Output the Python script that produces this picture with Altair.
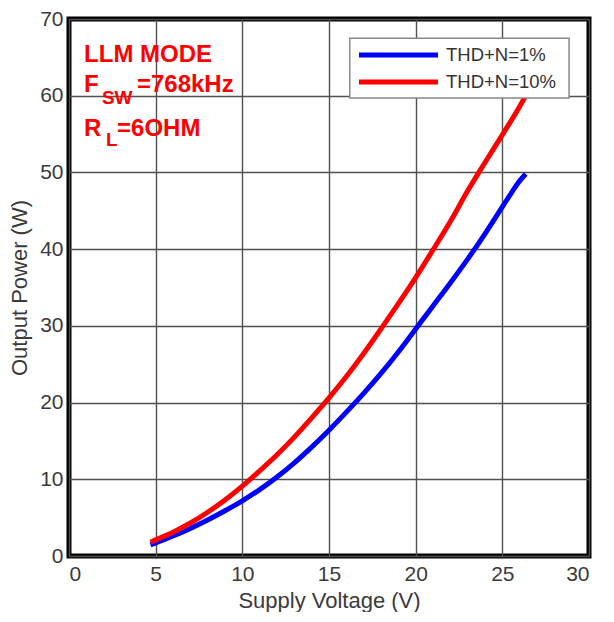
import altair as alt
import pandas as pd

# Supply voltage (V) and output power (W)
v_1pct = [4.7, 5, 6, 7, 8, 9, 10, 11, 12, 13, 14, 15, 16, 17, 18, 19, 20, 21, 22, 23, 24, 25, 25.6, 26, 26.35]
p_1pct = [1.45, 1.7, 2.6, 3.6, 4.7, 5.9, 7.2, 8.65, 10.3, 12.15, 14.2, 16.4, 18.75, 21.2, 23.8, 26.6, 29.6, 32.6, 35.6, 38.7, 42.0, 45.5, 47.6, 48.9, 49.8]

v_10pct = [4.7, 5, 6, 7, 8, 9, 10, 11, 12, 13, 14, 15, 16, 17, 18, 19, 20, 21, 22, 23, 24, 25, 26, 26.4]
p_10pct = [1.8, 2.1, 3.1, 4.3, 5.7, 7.3, 9.1, 11.1, 13.2, 15.5, 18.0, 20.6, 23.4, 26.4, 29.6, 32.9, 36.3, 39.9, 43.6, 47.6, 51.3, 54.9, 58.6, 60.2]

series_names = ["THD+N=1%", "THD+N=10%"]
series_colors = ["#0000FF", "#FF0000"]

x_ticks = [0, 5, 10, 15, 20, 25, 30]
y_ticks = [0, 10, 20, 30, 40, 50, 60, 70]

# legend box (data coordinates)
legend_box_v = [16.2, 28.85]
legend_box_p = [67.5, 59.7]
legend_line_v = [16.73, 21.29]
legend_row_p = [65.3, 61.8]
legend_text_v = 21.75

rows = []
for i, (v, p) in enumerate(zip(v_1pct, p_1pct)):
    rows.append({"V": v, "P": p, "series": series_names[0], "order": i})
for i, (v, p) in enumerate(zip(v_10pct, p_10pct)):
    rows.append({"V": v, "P": p, "series": series_names[1], "order": i})
df = pd.DataFrame(rows)

# annotation text pieces (data coordinates)
ann_text = ["LLM MODE", "F", "SW", "=768kHz", "R", "L", "=6OHM"]
ann_v = [0.87, 0.87, 1.9, 3.92, 0.87, 2.13, 2.77]
ann_p = [64.4, 60.5, 58.9, 60.5, 54.7, 53.4, 54.7]
ann_size = [24, 24, 19, 24, 24, 19, 24]
ann = pd.DataFrame({"V": ann_v, "P": ann_p, "t": ann_text, "size": ann_size})

box_df = pd.DataFrame({"V": [legend_box_v[0]], "V2": [legend_box_v[1]],
                       "P": [legend_box_p[0]], "P2": [legend_box_p[1]]})
leg_df = pd.DataFrame({"series": series_names, "P": legend_row_p,
                       "V": [legend_line_v[0]] * 2, "V2": [legend_line_v[1]] * 2,
                       "VT": [legend_text_v] * 2})

xs = alt.Scale(domain=[0, 30], nice=False)
ys = alt.Scale(domain=[0, 70], nice=False)
cs = alt.Scale(domain=series_names, range=series_colors)

lines = alt.Chart(df).mark_line(strokeWidth=5, interpolate="monotone").encode(
    x=alt.X("V:Q", scale=xs, title="Supply Voltage (V)",
            axis=alt.Axis(values=x_ticks)),
    y=alt.Y("P:Q", scale=ys, title="Output Power (W)",
            axis=alt.Axis(values=y_ticks)),
    color=alt.Color("series:N", scale=cs, legend=None),
    order="order:Q",
)

text = alt.Chart(ann).mark_text(align="left", baseline="alphabetic", fontWeight="bold",
                                 font="Liberation Sans", color="#FF0000").encode(
    x="V:Q", y="P:Q", text="t:N", size=alt.Size("size:Q", scale=None, legend=None),
)

box = alt.Chart(box_df).mark_rect(fill="white", stroke="#888888", strokeWidth=1.5).encode(
    x="V:Q", x2="V2:Q", y="P:Q", y2="P2:Q")

leg_lines = alt.Chart(leg_df).mark_rule(strokeWidth=5).encode(
    x="V:Q", x2="V2:Q", y="P:Q",
    color=alt.Color("series:N", scale=cs, legend=None))

leg_text = alt.Chart(leg_df).mark_text(align="left", baseline="middle", fontSize=18.5,
                                       font="Liberation Sans", color="#333333").encode(
    x="VT:Q", y="P:Q", text="series:N")

chart = alt.layer(lines, text, box, leg_lines, leg_text).properties(
    width=520, height=537,
    autosize=alt.AutoSizeParams(type="none"),
    padding={"left": 61, "top": 11, "right": 14, "bottom": 56},
).configure_view(
    stroke="black", strokeWidth=5
).configure_axis(
    grid=True, gridColor="#505050", gridWidth=1.4, domain=False, ticks=False,
    labelFont="Liberation Sans", labelFontSize=21, labelColor="#3a3a3a",
    titleFont="Liberation Sans", titleFontSize=22, titleColor="#3a3a3a", titleFontWeight="normal",
).configure_axisX(labelPadding=7, titlePadding=6).configure_axisY(labelPadding=6, titlePadding=8)

chart.save("out.html", embed_options={"renderer": "svg", "actions": False})
